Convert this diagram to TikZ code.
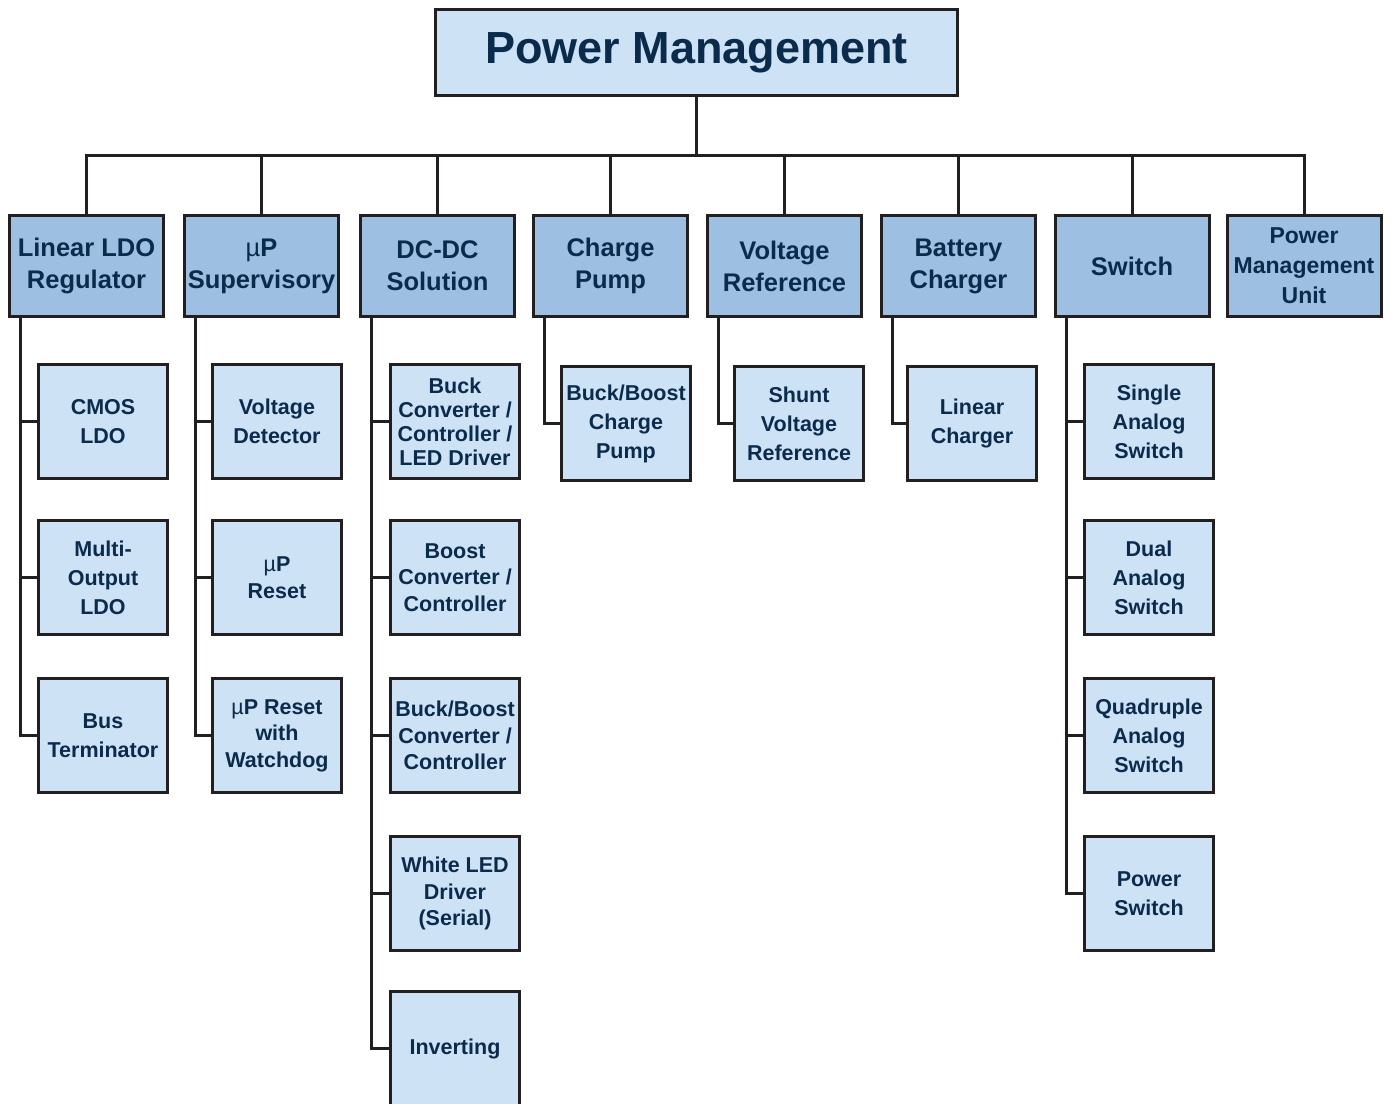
\documentclass[tikz,border=0pt]{standalone}
\usepackage{fontspec}
\setmainfont{Liberation Sans}
\usetikzlibrary{calc}
\definecolor{lightbox}{HTML}{CDE2F5}
\definecolor{midbox}{HTML}{9DBFE1}
\definecolor{navytext}{HTML}{0B2B4C}
\definecolor{edgecol}{HTML}{231F20}
\newcommand{\muP}{{\mdseries µ}P}
\begin{document}
\begin{tikzpicture}[x=1pt,y=-1pt,
  boxbase/.style={draw=edgecol,line width=3pt,inner sep=0pt,align=center,text=navytext},
  topbox/.style={boxbase,fill=lightbox,minimum width=522pt,minimum height=86pt,font=\bfseries\fontsize{45}{50}\selectfont},
  lone/.style={boxbase,fill=midbox,minimum width=154pt,minimum height=101pt,font=\bfseries\fontsize{25.5}{32}\selectfont},
  ltwo/.style={boxbase,fill=lightbox,minimum width=129pt,minimum height=114pt,font=\bfseries\fontsize{21.5}{29}\selectfont},
  tight/.style={font=\bfseries\fontsize{21.5}{24}\selectfont},
  mid/.style={font=\bfseries\fontsize{21.5}{26.5}\selectfont},
  conn/.style={draw=edgecol,line width=3pt}]
\useasboundingbox (0,0) rectangle (1391,1103);
\clip (0,0) rectangle (1391,1103);
% top
\node[topbox] (top) at (696.5,52.5) {Power Management};
% level 1
\node[lone] (l1) at (86.5,266) {Linear LDO\\Regulator};
\node[lone] (l2) at (261.5,266) {\muP\\Supervisory};
\node[lone] (l3) at (437.5,266) {DC-DC\\Solution};
\node[lone] (l4) at (610.5,266) {Charge\\Pump};
\node[lone] (l5) at (784.5,266) {Voltage\\Reference};
\node[lone] (l6) at (958.5,266) {Battery\\Charger};
\node[lone] (l7) at (1132,266) {Switch};
\node[lone,font=\bfseries\fontsize{23}{30}\selectfont] (l8) at (1304,266) {Power\\Management\\Unit};
% bus
\coordinate (bus) at (696.5,155);
\draw[conn] (top.south) -- (bus);
\draw[conn] (l1.north) -- (l1.north |- bus) -- (l8.north |- bus) -- (l8.north);
\foreach \n in {l2,l3,l4,l5,l6,l7} \draw[conn] (\n.north) -- (\n.north |- bus);
% column 1
\node[ltwo] (c11) at (103,421.5) {CMOS\\LDO};
\node[ltwo] (c12) at (103,577.5) {Multi-\\Output\\LDO};
\node[ltwo] (c13) at (103,735.5) {Bus\\Terminator};
% column 2
\node[ltwo] (c21) at (277,421.5) {Voltage\\Detector};
\node[ltwo,mid] (c22) at (277,577.5) {\muP\\Reset};
\node[ltwo,mid] (c23) at (277,735.5) {\muP{} Reset\\with\\Watchdog};
% column 3
\node[ltwo,tight] (c31) at (455,421.5) {Buck\\Converter /\\Controller /\\LED Driver};
\node[ltwo,mid] (c32) at (455,577.5) {Boost\\Converter /\\Controller};
\node[ltwo,mid] (c33) at (455,735.5) {Buck/Boost\\Converter /\\Controller};
\node[ltwo,mid] (c34) at (455,893.5) {White LED\\Driver\\(Serial)};
\node[ltwo] (c35) at (455,1048.5) {Inverting};
% columns 4-6
\node[ltwo] (c41) at (626,423.5) {Buck/Boost\\Charge\\Pump};
\node[ltwo] (c51) at (799,423.5) {Shunt\\Voltage\\Reference};
\node[ltwo] (c61) at (972,423.5) {Linear\\Charger};
% column 7
\node[ltwo] (c71) at (1149,421.5) {Single\\Analog\\Switch};
\node[ltwo] (c72) at (1149,577.5) {Dual\\Analog\\Switch};
\node[ltwo] (c73) at (1149,735.5) {Quadruple\\Analog\\Switch};
\node[ltwo] (c74) at (1149,893.5) {Power\\Switch};
% connectors
\foreach \p/\c in {l1/c11,l1/c12,l1/c13,l2/c21,l2/c22,l2/c23,l3/c31,l3/c32,l3/c33,l3/c34,l3/c35,l4/c41,l5/c51,l6/c61,l7/c71,l7/c72,l7/c73,l7/c74}
  \draw[conn] ($(\p.south west)+(12.5,0)$) |- (\c.west);
\end{tikzpicture}
\end{document}
